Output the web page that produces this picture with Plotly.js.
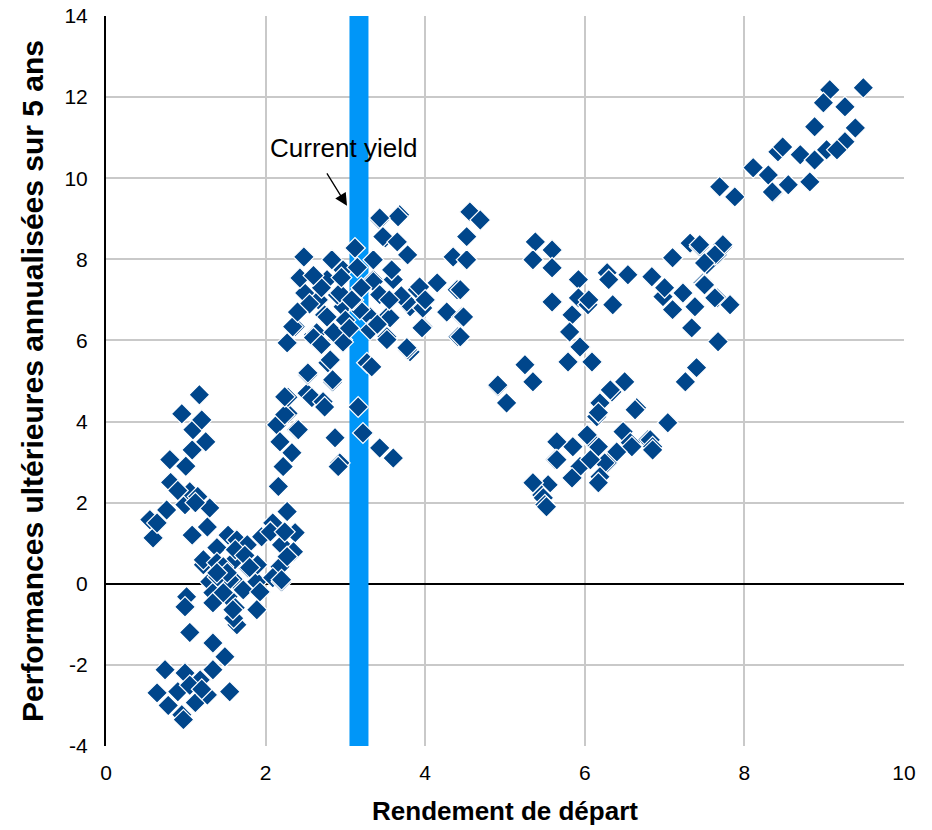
<!DOCTYPE html>
<html>
<head>
<meta charset="utf-8">
<script src="https://cdn.plot.ly/plotly-3.0.1.min.js"></script>
<style>html,body{margin:0;padding:0;background:#fff;}#chart{width:932px;height:830px;}</style>
</head>
<body>
<div id="chart"></div>
<script>
// Starting yield (x) and subsequent 5-year annualised return (y)
const startYield = [
 0.55,0.59,0.64,0.76,0.81,0.80,0.95,1.00,0.99,1.05,1.08,1.09,1.17,1.20,1.25,1.15,1.30,1.08,1.27,1.39,1.53,1.22,1.12,0.90,
 1.39,1.64,1.77,1.95,2.09,2.27,2.37,2.20,2.35,1.22,1.39,1.59,1.78,1.89,2.18,2.09,2.20,1.30,1.47,1.64,1.01,1.34,1.53,1.72,1.93,0.99,1.34,1.62,1.89,1.64,1.60,1.05,1.62,1.74,1.90,1.47,1.55,1.40,2.27,2.06,2.24,1.80,1.52,1.39,1.47,1.59,2.20,
 1.34,1.49,0.74,0.99,1.18,1.34,0.64,0.90,1.12,1.27,1.55,0.78,0.95,0.97,1.05,1.20,
 2.16,2.22,2.28,2.14,2.39,2.18,2.33,2.24,2.41,2.28,2.24,2.52,2.58,2.72,2.74,2.87,2.93,2.91,3.16,3.22,3.43,3.60,2.84,2.53,2.53,2.84,2.78,2.81,3.27,3.33,3.81,3.78,
 2.27,2.37,2.34,2.60,2.64,2.60,2.96,2.97,2.74,2.77,3.31,3.52,3.56,3.52,3.52,3.77,3.31,3.97,3.96,3.81,3.97,2.97,3.18,2.66,2.90,3.10,2.93,3.08,2.49,2.43,2.77,3.35,3.35,3.43,3.60,3.77,3.90,3.93,4.15,4.40,4.27,4.46,4.41,4.44,
 2.48,2.83,2.97,3.12,3.43,3.68,3.50,3.47,3.65,3.78,3.35,3.58,3.66,3.43,4.56,4.69,4.52,4.35,4.52,4.44,4.48,2.70,2.60,2.55,3.00,3.20,3.70,4.00,2.85,2.70,3.40,3.55,3.15,2.95,3.05,2.40,
 4.91,5.02,4.91,
 5.38,5.59,5.35,5.59,5.92,6.28,6.54,5.59,5.92,6.04,6.35,5.84,5.81,5.94,5.79,6.09,7.10,6.84,6.98,7.23,7.10,7.38,7.34,7.67,7.32,7.44,7.66,7.53,7.73,7.48,7.66,7.82,6.30,7.00,7.50,6.05,
 5.25,5.35,7.40,7.26,7.04,
 6.50,6.34,6.32,6.19,6.65,6.63,6.15,6.17,6.48,6.79,6.82,6.85,6.85,6.57,6.59,6.40,6.40,6.17,6.28,6.25,6.19,6.17,6.04,6.03,5.85,5.65,5.63,5.65,5.94,6.07,5.84,5.54,5.34,5.35,5.46,5.48,5.50,5.52,
 9.07,9.49,8.99,9.26,8.88,9.39,9.26,9.03,9.16,8.70,8.88,8.42,8.48,8.11,8.30,8.55,8.82,8.36,7.69,7.88,8.35,
 7.73,7.44,7.63,7.50,7.50,7.63,7.38
];
const fwdReturn = [
 1.58,1.13,1.50,1.82,2.50,3.06,4.19,2.90,1.95,2.27,3.30,3.80,4.66,4.04,3.50,2.15,1.87,1.20,1.40,0.90,1.20,0.47,2.00,2.30,
 0.89,1.08,0.96,1.16,1.50,1.78,1.26,0.96,0.79,0.59,0.52,0.54,0.39,0.05,0.42,0.15,0.05,0.05,0.02,0.02,-0.32,-0.22,-0.32,-0.15,-0.20,-0.57,-0.47,-0.59,-0.64,-1.01,-0.85,-1.20,0.84,0.70,0.47,0.42,0.10,0.17,0.67,1.28,1.28,0.40,0.27,0.27,-0.22,-0.64,0.10,
 -1.46,-1.80,-2.12,-2.20,-2.37,-2.12,-2.69,-2.66,-2.93,-2.74,-2.66,-3.00,-3.23,-3.35,-2.50,-2.60,
 2.40,2.89,4.20,3.92,3.80,3.50,3.23,4.17,3.80,4.60,4.61,4.70,4.59,4.49,4.36,3.60,2.98,2.89,4.36,3.72,3.35,3.10,4.98,5.15,5.20,5.03,5.45,5.52,5.45,5.35,5.72,5.77,
 5.94,6.34,6.34,6.14,6.19,6.07,6.02,5.96,6.63,6.58,6.58,6.58,6.56,6.09,6.02,5.82,6.26,6.34,6.31,6.83,6.80,6.83,6.76,7.00,7.12,7.00,7.17,7.00,7.17,7.54,7.50,7.50,7.45,7.13,7.50,6.95,7.25,7.32,7.42,7.25,6.70,6.58,6.09,6.09,
 8.06,7.99,7.74,8.28,8.97,9.10,8.53,8.56,8.43,8.11,7.99,7.74,9.05,9.02,9.17,8.97,8.56,8.06,7.99,7.25,6.58,7.30,7.60,6.90,6.50,7.30,7.10,7.00,6.20,5.90,6.40,7.00,7.80,7.55,6.30,6.70,
 4.86,4.46,4.90,
 8.43,8.23,7.99,7.79,7.50,7.67,7.62,6.95,7.05,6.88,6.88,6.63,6.21,5.84,5.47,5.47,8.04,7.57,7.08,7.17,6.76,6.83,6.31,5.97,8.40,8.31,8.11,7.87,8.31,7.42,7.05,6.88,7.50,7.30,7.40,7.00,
 5.40,4.98,5.33,4.98,3.97,
 4.98,4.73,4.78,4.46,4.34,4.29,4.12,4.22,3.75,3.55,3.55,3.38,3.30,3.48,3.38,3.23,3.25,3.38,2.98,2.98,2.64,2.49,3.62,3.67,3.38,3.50,3.06,3.06,2.89,3.06,2.61,2.44,2.49,2.49,2.19,2.12,1.95,1.90,
 12.18,12.23,11.86,11.76,11.27,11.24,10.90,10.70,10.70,10.58,10.45,10.65,10.77,10.26,10.08,9.84,9.91,9.64,9.79,9.54,9.66,
 8.36,8.36,8.11,7.91,7.37,7.05,6.83
];
const currentYield = 3.17;
const yRange = [-4, 14];
const xRange = [0, 10];
const xTicks = [0, 2, 4, 6, 8, 10];
const yTicks = [-4, -2, 0, 2, 4, 6, 8, 10, 12, 14];
const arrowTip = [3.02, 9.32];
const labelPos = [2.97, 10.75];

const font = "Liberation Sans, Arial, sans-serif";

const traces = [
  {
    x: [currentYield, currentYield], y: yRange,
    mode: 'lines', type: 'scatter',
    line: {color: '#0096f8', width: 19},
    hoverinfo: 'skip', showlegend: false, cliponaxis: true
  },
  {
    x: startYield, y: fwdReturn,
    mode: 'markers', type: 'scatter',
    marker: {symbol: 'diamond', size: 16, color: '#00468b', line: {color: '#ffffff', width: 1.2}},
    showlegend: false
  }
];

const layout = {
  width: 932, height: 830,
  margin: {l: 106, r: 28, t: 16, b: 84},
  paper_bgcolor: '#ffffff', plot_bgcolor: '#ffffff',
  font: {family: font, color: '#000000', size: 21},
  showlegend: false,
  xaxis: {
    range: xRange, tickvals: xTicks, ticktext: xTicks.map(String),
    showgrid: true, gridcolor: '#c9c9c9', gridwidth: 2,
    zeroline: false, showline: false, ticks: '',
    ticklabelstandoff: 12,
    tickfont: {size: 21, family: font, color: '#000'},
    title: {text: 'Rendement de départ', font: {size: 26, family: font, color: '#000', weight: 'bold'}, standoff: 18}
  },
  yaxis: {
    range: yRange, tickvals: yTicks, ticktext: yTicks.map(String),
    showgrid: true, gridcolor: '#c9c9c9', gridwidth: 2,
    zeroline: true, zerolinecolor: '#000000', zerolinewidth: 2,
    showline: true, linecolor: '#000000', linewidth: 2,
    ticks: '', ticklabelstandoff: 12,
    tickfont: {size: 21, family: font, color: '#000'},
    title: {text: 'Performances ultérieures annualisées sur 5 ans', font: {size: 30, family: font, color: '#000', weight: 'bold'}, standoff: 12}
  },
  annotations: [
    {
      x: arrowTip[0], y: arrowTip[1], xref: 'x', yref: 'y',
      text: '', showarrow: true, arrowhead: 2, arrowsize: 1.9, arrowwidth: 1.3, arrowcolor: '#000',
      ax: -21, ay: -34
    },
    {
      x: labelPos[0], y: labelPos[1], xref: 'x', yref: 'y',
      text: 'Current yield', showarrow: false,
      font: {size: 26, family: font, color: '#000'}
    }
  ]
};

Plotly.newPlot('chart', traces, layout, {displayModeBar: false, staticPlot: true});
</script>
</body>
</html>
